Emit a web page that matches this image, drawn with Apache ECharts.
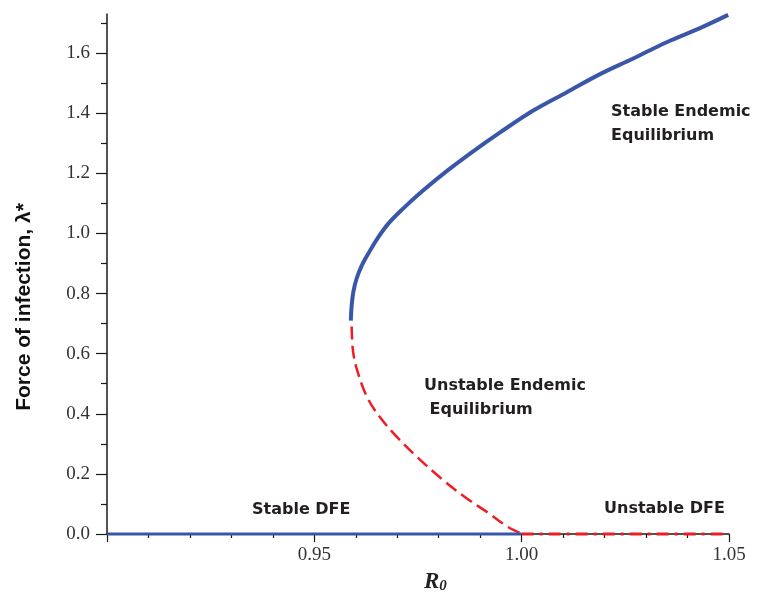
<!DOCTYPE html>
<html>
<head>
<meta charset="utf-8">
<script src="https://cdn.jsdelivr.net/npm/echarts@6/dist/echarts.min.js"></script>
<style>
html,body{margin:0;padding:0;background:#fff;}
#chart{width:760px;height:599px;}
</style>
</head>
<body>
<div id="chart"></div>
<script>
// ---- Data ----
const stableDFE_R0 = [0.90, 1.00];
const stableDFE_lambda = [0, 0];

const unstableDFE_R0 = [1.00, 1.05];
const unstableDFE_lambda = [0, 0];

const stableEE_R0 = [0.9588, 0.9590, 0.9594, 0.9602, 0.9614, 0.9631, 0.9652, 0.9680, 0.9712, 0.9760, 0.9820, 0.9883, 0.9948, 1.0027, 1.0109, 1.0189, 1.0269, 1.0351, 1.0430, 1.0498];
const stableEE_lambda = [0.710, 0.760, 0.805, 0.850, 0.892, 0.935, 0.983, 1.035, 1.080, 1.140, 1.208, 1.273, 1.336, 1.408, 1.470, 1.530, 1.582, 1.637, 1.683, 1.727];

const unstableEE_R0 = [0.9590, 0.9593, 0.9603, 0.9627, 0.9658, 0.9699, 0.9748, 0.9810, 0.9868, 0.9924, 0.9965, 0.9996, 1.0000];
const unstableEE_lambda = [0.690, 0.612, 0.546, 0.456, 0.389, 0.323, 0.256, 0.180, 0.118, 0.066, 0.025, 0.003, 0.000];

const xTickLabels = [0.95, 1.00, 1.05];
const yTickLabels = [0.0, 0.2, 0.4, 0.6, 0.8, 1.0, 1.2, 1.4, 1.6];
const yMinorTicks = [0.1, 0.3, 0.5, 0.7, 0.9, 1.1, 1.3, 1.5, 1.7];

const annotations = [
  {text: 'Stable Endemic\nEquilibrium', x: 611, y: 100},
  {text: 'Unstable Endemic\n Equilibrium', x: 424, y: 374},
  {text: 'Stable DFE', x: 252, y: 498},
  {text: 'Unstable DFE', x: 604, y: 497}
];

const zip = (a, b) => a.map((v, i) => [v, b[i]]);

const chart = echarts.init(document.getElementById('chart'));
const BLUE = '#3a56a8';
const RED = '#ee1c25';
const AXC = '#1a1a1a';
const labelFont = {fontFamily: 'Liberation Serif', fontSize: 19, color: '#333'};

chart.setOption({
  animation: false,
  backgroundColor: '#fff',
  grid: {left: 107, right: 31, top: 14, bottom: 65},
  xAxis: [{
    type: 'value', min: 0.90, max: 1.05, interval: 0.05, position: 'bottom',
    axisLine: {lineStyle: {color: AXC, width: 1.5}},
    axisTick: {show: true, length: 8, lineStyle: {color: AXC, width: 1.2}},
    minorTick: {show: true, splitNumber: 5, length: 4, lineStyle: {color: AXC, width: 1.2}},
    axisLabel: Object.assign({
      margin: 12,
      formatter: v => (xTickLabels.some(t => Math.abs(t - v) < 1e-9) ? v.toFixed(2) : '')
    }, labelFont),
    splitLine: {show: false}, minorSplitLine: {show: false}
  }],
  yAxis: [{
    type: 'value', min: 0, max: 1.73, position: 'left',
    axisLine: {show: true, lineStyle: {color: AXC, width: 1.5}},
    axisTick: {show: true, length: 11, customValues: yTickLabels, lineStyle: {color: AXC, width: 1.2}},
    axisLabel: Object.assign({margin: 17, customValues: yTickLabels, formatter: v => v.toFixed(1)}, labelFont),
    splitLine: {show: false}
  }, {
    type: 'value', min: 0, max: 1.73, position: 'left', offset: 0,
    axisLine: {show: false},
    axisTick: {show: true, length: 6, customValues: yMinorTicks, lineStyle: {color: AXC, width: 1.2}},
    axisLabel: {show: false},
    splitLine: {show: false}
  }],
  series: [
    {type: 'line', data: zip(stableDFE_R0, stableDFE_lambda), symbol: 'none', clip: false, z: 5,
     lineStyle: {color: BLUE, width: 3}},
    {type: 'line', data: zip(unstableDFE_R0, unstableDFE_lambda), symbol: 'none', clip: false, z: 5,
     lineStyle: {color: RED, width: 3, type: [12, 6, 3, 6]}},
    {type: 'line', data: zip(stableEE_R0, stableEE_lambda), symbol: 'none', clip: false, z: 4, smooth: 0.35,
     lineStyle: {color: BLUE, width: 4}},
    {type: 'line', data: zip(unstableEE_R0, unstableEE_lambda), symbol: 'none', clip: false, z: 4, smooth: 0.35,
     lineStyle: {color: RED, width: 2.5, type: [13, 6]}}
  ],
  graphic: [
    {type: 'text', x: 24, y: 307, rotation: Math.PI / 2,
     style: {text: 'Force of infection, λ*', font: 'bold 21px "Liberation Sans", Arial, sans-serif',
             fill: '#111', textAlign: 'center', textVerticalAlign: 'middle', align: 'center', verticalAlign: 'middle'}},
    {type: 'text', x: 424, y: 582,
     style: {text: '{r|R}{s|0}', verticalAlign: 'middle', textVerticalAlign: 'middle',
             rich: {
               r: {font: 'italic bold 23px "Liberation Serif", serif', fill: '#222', fontFamily: 'Liberation Serif', fontSize: 23, fontStyle: 'italic', fontWeight: 'bold', color: '#222'},
               s: {font: 'italic bold 15px "Liberation Serif", serif', fill: '#222', fontFamily: 'Liberation Serif', fontSize: 15, fontStyle: 'italic', fontWeight: 'bold', color: '#222', padding: [8, 0, 0, 0]}
             }}}
  ].concat(annotations.map(a => ({
    type: 'text', x: a.x, y: a.y,
    style: {text: a.text, font: 'bold 16px "DejaVu Sans", sans-serif', fill: '#231f20',
            lineHeight: 24, verticalAlign: 'top', textVerticalAlign: 'top'}
  })))
});
</script>
</body>
</html>
